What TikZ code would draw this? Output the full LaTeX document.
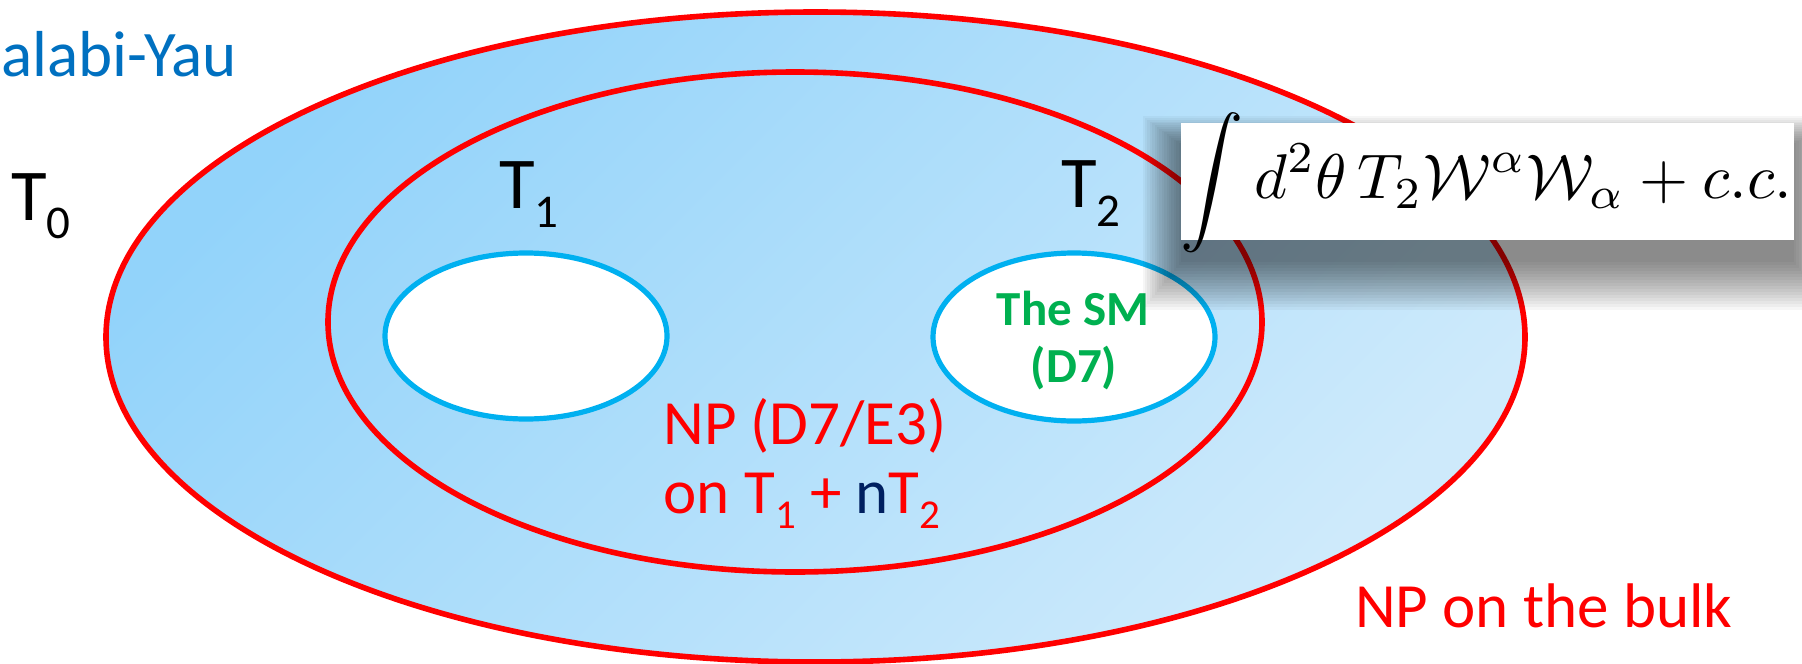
\documentclass[tikz,border=0pt]{standalone}
\usepackage[no-math]{fontspec}
\setmainfont{Carlito}
\usepackage{graphicx}
\definecolor{npred}{RGB}{255,0,0}
\definecolor{cyblue}{RGB}{0,112,192}
\definecolor{ringblue}{RGB}{0,176,240}
\definecolor{smgreen}{RGB}{0,176,80}
\definecolor{navyn}{RGB}{0,32,96}
\definecolor{bluedark}{RGB}{146,211,250}
\definecolor{bluelight}{RGB}{206,234,251}
\newcommand{\lsub}[3]{\raisebox{-#1pt}{\fontsize{#2}{#2}\selectfont #3}}
\begin{document}
\begin{tikzpicture}[x=1pt,y=-1pt,
  redring/.style={draw=npred,line width=5.6pt},
  hole/.style={draw=ringblue,line width=5.2pt,fill=white},
  lbl/.style={inner sep=0pt,anchor=base west},
  ctr/.style={inner sep=0pt,anchor=base},
  tfont/.style={font=\fontsize{73}{80}\selectfont},
  rfont/.style={font=\fontsize{63}{70}\selectfont,text=npred},
  smfont/.style={font=\bfseries\fontsize{49}{55}\selectfont,text=smgreen}]
\useasboundingbox (0,0) rectangle (1802,664);
% bulk
\shade[top color=bluedark,bottom color=bluelight,shading angle=45]
  (815.5,337) ellipse [x radius=709.5,y radius=325];
\draw[redring] (815.5,337) ellipse [x radius=709.5,y radius=325];
\draw[redring] (795,322) ellipse [x radius=467,y radius=250];
\draw[hole] (526,336) ellipse [x radius=141,y radius=83];
\draw[hole] (1074,337) ellipse [x radius=141,y radius=84];
% labels
\node[lbl,text=cyblue,font=\fontsize{65}{70}\selectfont] (cy) at (1,76) {alabi-Yau};
\node[lbl,tfont] (t0) at (11,220) {T\lsub{18}{47}{0}};
\node[lbl,tfont] (t1) at (499,208) {T\lsub{19}{47}{1}};
\node[lbl,tfont] (t2) at (1061,207) {T\lsub{19}{47}{2}};
\node[ctr,rfont] (np1) at (805,444) {NP (D7/E3)};
\node[ctr,rfont] (np2) at (802,513) {on T\lsub{15}{41}{1} + \textcolor{navyn}{n}T\lsub{15}{41}{2}};
\node[lbl,rfont] (bulk) at (1355,627) {NP on the bulk};
\node[ctr,smfont] (sm1) at (1073,325) {The SM};
\node[ctr,smfont] (sm2) at (1074,382) {(D7)};
% formula box with soft shadow
\foreach \s in {0,3,...,48}
  \fill[black,opacity=0.037] (1181-0.8*\s,145-0.6*\s) rectangle (1794+0.8*\s,262+\s);
\node[fill=white,inner sep=0pt,minimum width=613pt,minimum height=117pt] (fbox) at (1487.5,181.5) {};
\node[inner sep=0pt] (formula) at (1486.5,183)
  {\resizebox{611pt}{!}{$\displaystyle\int d^2\theta\,T_2\mathcal{W}^\alpha\mathcal{W}_\alpha+c.c.$}};
\end{tikzpicture}
\end{document}
